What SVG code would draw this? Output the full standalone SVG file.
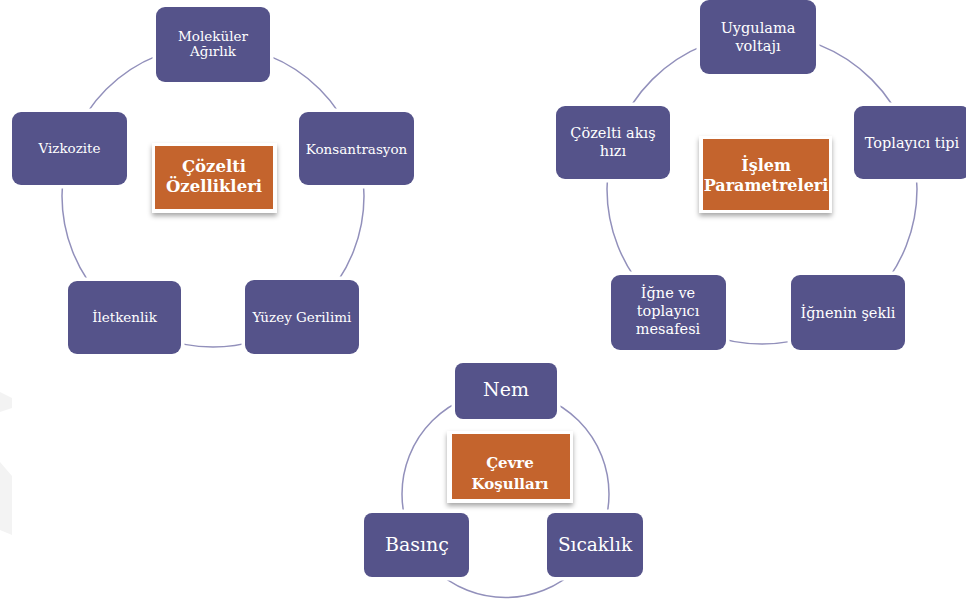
<svg xmlns="http://www.w3.org/2000/svg" width="966" height="600" viewBox="0 0 966 600">
<defs>
<filter id="sh" x="-20%" y="-20%" width="140%" height="150%">
<feDropShadow dx="0" dy="3" stdDeviation="2.5" flood-color="#000" flood-opacity="0.35"/>
</filter>
<style>
.ring{fill:none;stroke:#9290bb;stroke-width:1.5}
.node{fill:#55538a;stroke:#fff;stroke-width:7;paint-order:stroke}
.lbl{font-family:"DejaVu Serif",serif;fill:#fff;text-anchor:middle}
.hubo{fill:#fff;filter:url(#sh)}
.hubi{fill:#c4642d}
.hubt{font-family:"DejaVu Serif",serif;font-weight:bold;fill:#fff;text-anchor:middle}
</style>
</defs>
<rect width="966" height="600" fill="#fff"/>
<g id="watermark" fill="#f3f3f3">
<polygon points="0,392 12,398 12,408 0,412"/>
<polygon points="0,462 12,476 12,535 0,530"/>
</g>
<g id="connectors">
<circle class="ring" cx="213" cy="196" r="151"/>
<circle class="ring" cx="762" cy="189" r="155"/>
<circle class="ring" cx="505.5" cy="494" r="103.5"/>
</g>
<g id="hub1">
<rect class="hubo" x="152" y="143" width="125" height="70"/>
<rect class="hubi" x="155" y="146" width="118" height="63"/>
<text class="hubt" font-size="16.5"><tspan x="214" y="172">Çözelti</tspan><tspan x="214" y="192">Özellikleri</tspan></text>
</g>
<g id="n-molekuler">
<rect class="node" x="156" y="7" width="114" height="75" rx="9"/>
<text class="lbl" font-size="13.5"><tspan x="213" y="41">Moleküler</tspan><tspan x="213" y="56">Ağırlık</tspan></text>
</g>
<g id="n-konsantrasyon">
<rect class="node" x="299" y="112" width="115" height="73" rx="9"/>
<text class="lbl" font-size="13.5" x="356.5" y="154">Konsantrasyon</text>
</g>
<g id="n-yuzey">
<rect class="node" x="245" y="280" width="114" height="74" rx="9"/>
<text class="lbl" font-size="13.5" x="302" y="322">Yüzey Gerilimi</text>
</g>
<g id="n-iletkenlik">
<rect class="node" x="68" y="281" width="113" height="73" rx="9"/>
<text class="lbl" font-size="13.5" x="124.5" y="322">İletkenlik</text>
</g>
<g id="n-vizkozite">
<rect class="node" x="12" y="112" width="115" height="73" rx="9"/>
<text class="lbl" font-size="13.5" x="69.5" y="153">Vizkozite</text>
</g>
<g id="hub2">
<rect class="hubo" x="699" y="136" width="133" height="77"/>
<rect class="hubi" x="703" y="139" width="126" height="71"/>
<text class="hubt" font-size="16"><tspan x="766" y="171">İşlem</tspan><tspan x="766" y="191">Parametreleri</tspan></text>
</g>
<g id="n-uygulama">
<rect class="node" x="700" y="0" width="116" height="74" rx="9"/>
<text class="lbl" font-size="14.5"><tspan x="758" y="33">Uygulama</tspan><tspan x="758" y="51">voltajı</tspan></text>
</g>
<g id="n-toplayici">
<rect class="node" x="854" y="106" width="116" height="73" rx="9"/>
<text class="lbl" font-size="14.5" x="912" y="148">Toplayıcı tipi</text>
</g>
<g id="n-ignenin">
<rect class="node" x="791" y="275" width="114" height="75" rx="9"/>
<text class="lbl" font-size="14.5" x="848" y="318">İğnenin şekli</text>
</g>
<g id="n-igne-mesafe">
<rect class="node" x="611" y="275" width="115" height="75" rx="9"/>
<text class="lbl" font-size="14.5"><tspan x="668" y="298">İğne ve</tspan><tspan x="668" y="316">toplayıcı</tspan><tspan x="668" y="334">mesafesi</tspan></text>
</g>
<g id="n-akis">
<rect class="node" x="556" y="106" width="114" height="73" rx="9"/>
<text class="lbl" font-size="14.5"><tspan x="613" y="138">Çözelti akış</tspan><tspan x="613" y="156">hızı</tspan></text>
</g>
<g id="hub3">
<rect class="hubo" x="447" y="431" width="126" height="72"/>
<rect class="hubi" x="452" y="434" width="118" height="65"/>
<text class="hubt" font-size="15"><tspan x="510" y="468">Çevre</tspan><tspan x="510" y="489">Koşulları</tspan></text>
</g>
<g id="n-nem">
<rect class="node" x="455" y="363" width="102" height="56" rx="8"/>
<text class="lbl" font-size="19" x="506" y="396">Nem</text>
</g>
<g id="n-sicaklik">
<rect class="node" x="547" y="513" width="96" height="64" rx="8"/>
<text class="lbl" font-size="18.5" x="595" y="551">Sıcaklık</text>
</g>
<g id="n-basinc">
<rect class="node" x="364" y="513" width="105" height="64" rx="8"/>
<text class="lbl" font-size="19" x="417" y="551">Basınç</text>
</g>
</svg>
